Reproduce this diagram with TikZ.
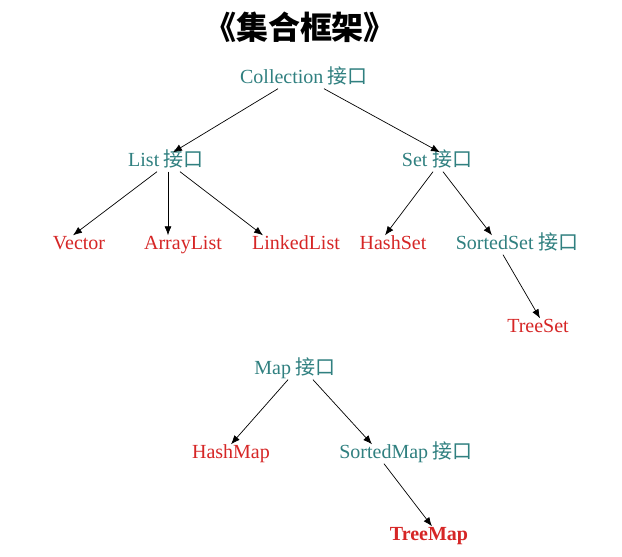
\documentclass[tikz,border=0pt]{standalone}
\usepackage{fontspec}
\setmainfont{Liberation Serif}
\newfontfamily\cjk{Noto Sans CJK SC}
\usetikzlibrary{calc}
\usetikzlibrary{arrows.meta}
\definecolor{ifcteal}{RGB}{48,128,128}
\definecolor{clsred}{RGB}{214,38,38}
\newcommand*{\jk}{{\cjk\ 接口}}
\tikzset{
    iface/.style = {text=ifcteal, inner sep=1pt, text height=13pt, text depth=4pt, font=\fontsize{20}{23}\selectfont},
    cls/.style   = {text=clsred, inner sep=1pt, text height=13pt, text depth=4pt, font=\fontsize{20}{23}\selectfont},
    link/.style  = {-{Latex[length=9pt,width=7pt]}, line width=0.7pt, black},
}

\begin{document}
\begin{tikzpicture}[x=1pt, y=-1pt]
    \useasboundingbox [fill=white] (0,0) rectangle (622,557);
        \node (title) at (300,27) {\cjk\bfseries\fontsize{32}{35}\selectfont 《集合框架》};
        % Collection
        \node [iface] (coll)   at (304, 79) {Collection\jk};
        \node [iface] (list)   at (166,162) {List\jk};
        \node [iface] (set)    at (437,162) {Set\jk};
        \node [cls]   (vector) at ( 79,245) {Vector};
        \node [cls]   (alist)  at (183,245) {ArrayList};
        \node [cls]   (llist)  at (296,245) {LinkedList};
        \node [cls]   (hset)   at (393,245) {HashSet};
        \node [iface] (sset)   at (517,245) {SortedSet\jk};
        \node [cls]   (tset)   at (538,328) {TreeSet};
        % Map
        \node [iface] (map)    at (295,370) {Map\jk};
        \node [cls]   (hmap)   at (231,454) {HashMap};
        \node [iface] (smap)   at (406,454) {SortedMap\jk};
        \node [cls, font=\fontsize{20}{23}\selectfont\bfseries] (tmap) at (429,536) {TreeMap};
        \draw [link] ([xshift=-26pt]coll.south) -- ([xshift=7pt]list.north);
        \draw [link] ([xshift= 20pt]coll.south) -- ([xshift=3pt]set.north);
        \draw [link] ([xshift= -9pt]list.south) -- ([xshift=-6pt]vector.north);
        \draw [link] ([xshift=  2pt]list.south) -- ([xshift=-15pt]alist.north);
        \draw [link] ([xshift= 14pt]list.south) -- ([xshift=-33pt]llist.north);
        \draw [link] ([xshift= -4pt]set.south)  -- ([xshift=-8pt]hset.north);
        \draw [link] ([xshift=  6pt]set.south)  -- ([xshift=-25pt]sset.north);
        \draw [link] ([xshift=-14pt]sset.south) -- ([xshift=2pt]tset.north);
        \draw [link] ([xshift= -7pt]map.south)  -- (hmap.north);
        \draw [link] ([xshift= 18pt]map.south)  -- ([xshift=-34pt]smap.north);
        \draw [link] ([xshift=-22pt]smap.south) -- ([xshift=3pt]tmap.north);
    \end{tikzpicture}
\end{document}
